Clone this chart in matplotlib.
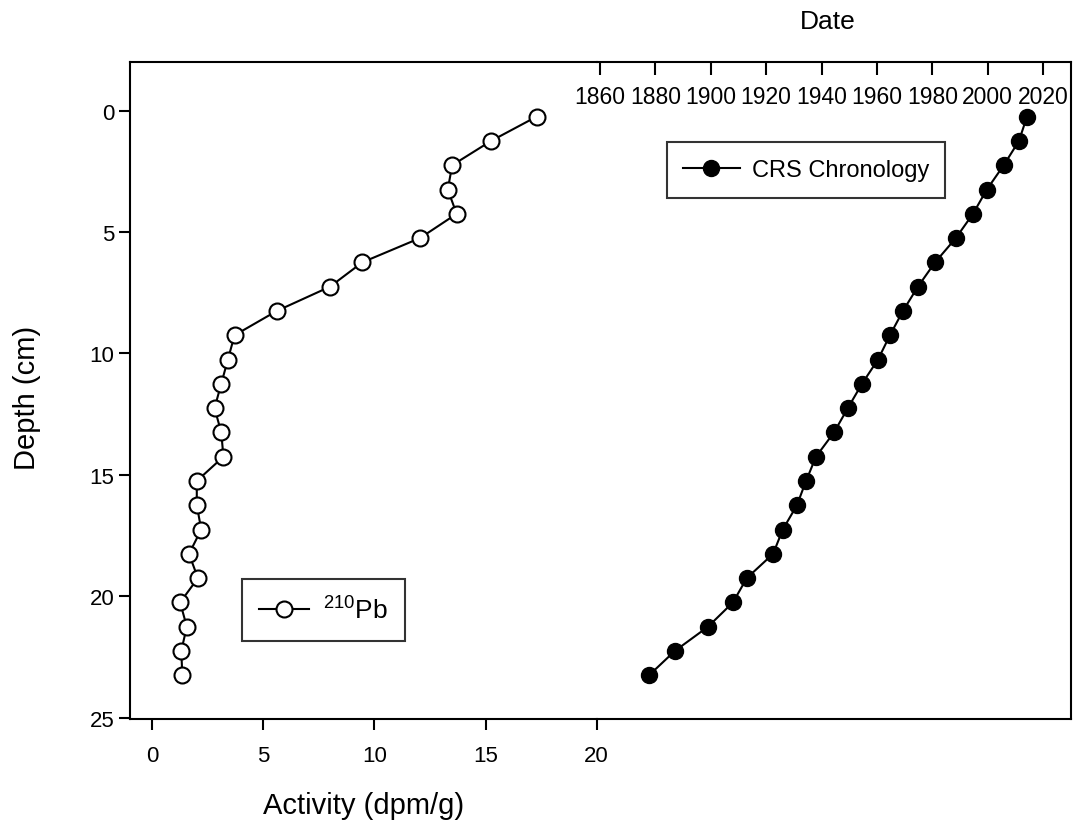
import matplotlib
matplotlib.use("Agg")
import matplotlib.pyplot as plt
from matplotlib.lines import Line2D

plt.rcParams['font.family'] = ['Liberation Sans', 'DejaVu Sans']
plt.rcParams['mathtext.default'] = 'regular'

# depth of each slice (cm)
depth = [0.25, 1.25, 2.25, 3.25, 4.25, 5.25, 6.25, 7.25, 8.25, 9.25, 10.25, 11.25,
         12.25, 13.25, 14.25, 15.25, 16.25, 17.25, 18.25, 19.25, 20.25, 21.25, 22.25, 23.25]

# 210Pb activity (dpm/g)
activity = [17.3, 15.25, 13.5, 13.3, 13.7, 12.05, 9.45, 8.0, 5.6, 3.7, 3.4, 3.1,
            2.8, 3.1, 3.2, 2.0, 2.0, 2.2, 1.65, 2.05, 1.25, 1.55, 1.3, 1.35]

# CRS model dates
crs_year = [2014.2, 2011.3, 2005.8, 1999.7, 1994.7, 1988.5, 1981.0, 1974.8, 1969.4, 1964.7,
            1960.4, 1954.6, 1949.5, 1944.5, 1938.0, 1934.4, 1931.1, 1926.0, 1922.5, 1913.0,
            1908.0, 1899.0, 1887.0, 1877.7]

act_ticks = [0, 5, 10, 15, 20]
year_ticks = list(range(1860, 2021, 20))
depth_ticks = [0, 5, 10, 15, 20, 25]

W, H = 1073, 829
fig = plt.figure(figsize=(W / 100, H / 100), dpi=100)

left, mid, right = 129.5 / W, 597 / W, 1071 / W
bottom, top = 1 - 720 / H, 1 - 63 / H

ax1 = fig.add_axes([left, bottom, mid - left, top - bottom])
ax2 = fig.add_axes([mid, bottom, right - mid, top - bottom])
ax2.patch.set_alpha(0)

lw = 1.5
# activity profile (open circles)
ax1.plot(activity, depth, color='black', linewidth=lw, marker='o', markersize=11.5,
         markerfacecolor='white', markeredgecolor='black', markeredgewidth=1.5, clip_on=False)
ax1.set_xlim(-1.03, 20.02)
ax1.set_ylim(25.05, -2.0)
ax1.set_xticks(act_ticks)
ax1.set_yticks(depth_ticks)
ax1.spines['right'].set_visible(False)
for s in ['left', 'bottom', 'top']:
    ax1.spines[s].set_linewidth(lw)
ax1.tick_params(axis='both', direction='out', length=8, width=lw, labelsize=16)
ax1.tick_params(axis='x', pad=11)
ax1.tick_params(axis='y', pad=3)
ax1.set_xlabel("Activity (dpm/g)", fontsize=21, labelpad=18)
ax1.set_ylabel("Depth (cm)", fontsize=21)
ax1.yaxis.set_label_coords(-0.19, 0.49)

# CRS chronology (filled circles)
ax2.plot(crs_year, depth, color='black', linewidth=lw, marker='o', markersize=11.5,
         markerfacecolor='black', markeredgecolor='black', clip_on=False)
ax2.set_xlim(1858.9, 2030.1)
ax2.set_ylim(25.05, -2.0)
ax2.set_yticks([])
ax2.spines['left'].set_visible(False)
for s in ['right', 'bottom', 'top']:
    ax2.spines[s].set_linewidth(lw)
ax2.xaxis.tick_top()
ax2.set_xticks(year_ticks)
ax2.tick_params(axis='x', direction='in', length=9, width=lw, labelsize=16.5, pad=-33)

fig.text(828 / W, 1 - 22 / H, "Date", fontsize=19, ha='center', va='center')

h_crs = Line2D([], [], color='black', linewidth=lw, marker='o', markersize=11.5,
               markerfacecolor='black')
h_pb = Line2D([], [], color='black', linewidth=lw, marker='o', markersize=11.5,
              markerfacecolor='white', markeredgewidth=1.5)

leg1 = fig.legend([h_crs], ["CRS Chronology"], loc='center', bbox_to_anchor=(806 / W, 1 - 171 / H),
                  fontsize=17, frameon=True, fancybox=False, edgecolor='black', handlelength=2.4,
                  borderpad=0.7, handletextpad=0.5, borderaxespad=0)
leg1.get_frame().set_linewidth(lw)
leg2 = fig.legend([h_pb], [r"$^{210}$Pb"], loc='center', bbox_to_anchor=(323.5 / W, 1 - 611 / H),
                  fontsize=19, frameon=True, fancybox=False, edgecolor='black', handlelength=1.9,
                  borderpad=0.65, handletextpad=0.55, borderaxespad=0)
leg2.get_frame().set_linewidth(lw)

fig.savefig("out.png", dpi=100)
